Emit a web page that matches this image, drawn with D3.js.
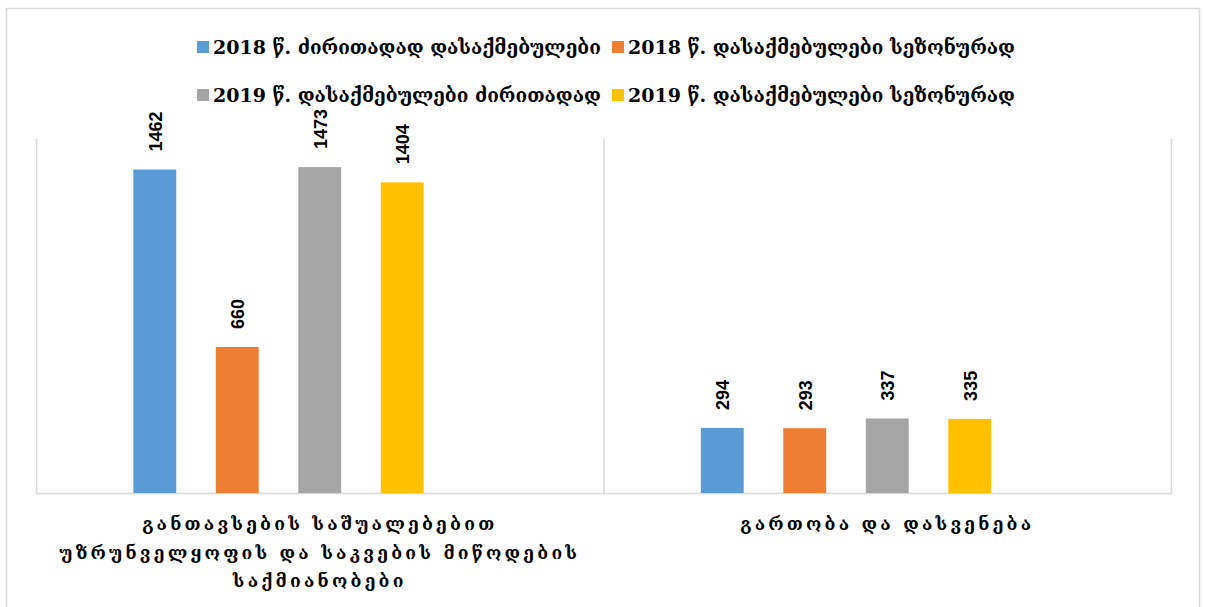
<!DOCTYPE html>
<html>
<head>
<meta charset="utf-8">
<script src="https://cdn.jsdelivr.net/npm/d3@7"></script>
<style>
  body { margin: 0; background: #fff; }
  svg { display: block; }
  .legend-text { font-family: "DejaVu Serif", serif; font-weight: bold; font-size: 19px; fill: #000; }
  .cat-label { font-family: "DejaVu Serif", serif; font-weight: bold; font-size: 17.5px; fill: #000; letter-spacing: 3.2px; }
  .value-label { font-family: "Liberation Sans", Arial, sans-serif; font-weight: bold; font-size: 18px; fill: #000; }
</style>
</head>
<body>
<svg id="chart"></svg>
<script>
// data
const categories = ['accommodation', 'recreation'];
const categoryLines = [
  ['განთავსების საშუალებებით', 'უზრუნველყოფის და საკვების მიწოდების', 'საქმიანობები'],
  ['გართობა და დასვენება']
];
const seriesNames = [
  '2018 წ. ძირითადად დასაქმებულები',
  '2018 წ. დასაქმებულები სეზონურად',
  '2019 წ. დასაქმებულები ძირითადად',
  '2019 წ. დასაქმებულები სეზონურად'
];
const employed2018Main = [1462, 294];
const employed2018Seasonal = [660, 293];
const employed2019Main = [1473, 337];
const employed2019Seasonal = [1404, 335];
const seriesColors = ['#5B9BD5', '#ED7D31', '#A5A5A5', '#FFC000'];

const allSeries = [employed2018Main, employed2018Seasonal, employed2019Main, employed2019Seasonal];

const width = 1205;
const height = 607;
const plot = { left: 36, right: 1171, top: 139, bottom: 493 };

const svg = d3.select('#chart')
  .attr('width', width)
  .attr('height', height);

// chart frame
svg.append('rect')
  .attr('x', 6.5)
  .attr('y', 8.5)
  .attr('width', 1193)
  .attr('height', 640)
  .attr('fill', 'none')
  .attr('stroke', '#d9d9d9')
  .attr('stroke-width', 1.5);

const x0 = d3.scaleBand()
  .domain(categories)
  .range([plot.left, plot.right]);

// 5 slots per group, last one empty (as in the original sheet)
const x1 = d3.scaleBand()
  .domain(d3.range(5))
  .range([0, x0.bandwidth()])
  .paddingInner(0.48)
  .paddingOuter(1.18);

const y = d3.scaleLinear()
  .domain([0, 1600])
  .range([plot.bottom, plot.top]);

// category dividers
const dividers = categories.map(c => x0(c)).concat([x0.range()[1]]);
svg.append('g')
  .selectAll('line')
  .data(dividers)
  .enter()
  .append('line')
  .attr('x1', d => d + 0.5)
  .attr('x2', d => d + 0.5)
  .attr('y1', y.range()[1])
  .attr('y2', y.range()[0])
  .attr('stroke', '#d9d9d9')
  .attr('stroke-width', 1.5);

svg.append('line')
  .attr('x1', plot.left)
  .attr('x2', plot.right + 1)
  .attr('y1', y(0) + 0.5)
  .attr('y2', y(0) + 0.5)
  .attr('stroke', '#d9d9d9')
  .attr('stroke-width', 1.5);

// bars
const barData = [];
allSeries.forEach((vals, si) => {
  vals.forEach((v, ci) => barData.push({ s: si, c: categories[ci], v: v }));
});

svg.append('g')
  .selectAll('rect')
  .data(barData)
  .enter()
  .append('rect')
  .attr('x', d => x0(d.c) + x1(d.s))
  .attr('width', x1.bandwidth())
  .attr('y', d => y(d.v))
  .attr('height', d => y(0) - y(d.v))
  .attr('fill', d => seriesColors[d.s]);

// value labels (rotated)
svg.append('g')
  .selectAll('text')
  .data(barData)
  .enter()
  .append('text')
  .classed('value-label', true)
  .attr('transform', d => `translate(${x0(d.c) + x1(d.s) + x1.bandwidth() / 2 + 7},${y(d.v) - 18}) rotate(-90)`)
  .text(d => d.v);

// category labels
const catG = svg.append('g');
categories.forEach((c, i) => {
  catG.append('g')
    .selectAll('text')
    .data(categoryLines[i])
    .enter()
    .append('text')
    .classed('cat-label', true)
    .attr('x', x0(c) + x0.bandwidth() / 2)
    .attr('y', (d, j) => 530 + j * 28.5)
    .attr('text-anchor', 'middle')
    .text(d => d);
});

// legend
const legend = svg.append('g');
const legendItems = legend.selectAll('g')
  .data(seriesNames)
  .enter()
  .append('g')
  .attr('transform', (d, i) => `translate(${197 + (i % 2) * 415},${Math.floor(i / 2) * 48 + 47})`);

legendItems.append('rect')
  .attr('x', 0)
  .attr('y', -6)
  .attr('width', 12)
  .attr('height', 12)
  .attr('fill', (d, i) => seriesColors[i]);

legendItems.append('text')
  .classed('legend-text', true)
  .attr('x', 16)
  .attr('y', 7)
  .attr('font-size', '19.5px')
  .text(d => d);
</script>
</body>
</html>
